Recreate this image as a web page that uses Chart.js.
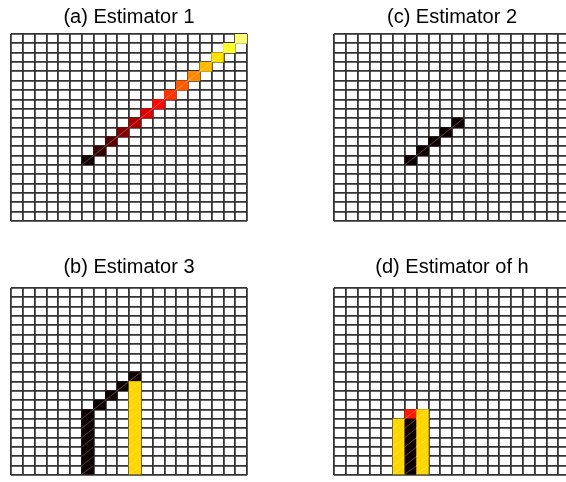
<!DOCTYPE html>
<html>
<head>
<meta charset="utf-8">
<script src="https://cdn.jsdelivr.net/npm/chart.js@4/dist/chart.umd.min.js"></script>
<style>
    html, body { margin: 0; padding: 0; width: 566px; height: 482px; overflow: hidden; background: #fff; }
    canvas { position: absolute; }
</style>
</head>
<body>
<canvas id="chartA" width="260" height="232" style="left:0px;top:0px"></canvas>
<canvas id="chartC" width="260" height="232" style="left:323px;top:0px"></canvas>
<canvas id="chartB" width="260" height="232" style="left:0px;top:250px"></canvas>
<canvas id="chartD" width="260" height="232" style="left:323px;top:250px"></canvas>
<script>
// grid is 20 x 20, rows counted from the top
const columnLabels = ['1','2','3','4','5','6','7','8','9','10','11','12','13','14','15','16','17','18','19','20'];
const rowCount = 20;

// (a) Estimator 1
const colsA = [7, 8, 9, 10, 11, 12, 13, 14, 15, 16, 17, 18, 19, 20];
const rowsA = [14, 13, 12, 11, 10, 9, 8, 7, 6, 5, 4, 3, 2, 1];
const heatA = [0.02, 0.075, 0.13, 0.185, 0.245, 0.315, 0.375, 0.44, 0.5, 0.57, 0.64, 0.7, 0.78, 0.86];

// (c) Estimator 2
const colsC = [7, 8, 9, 10, 11];
const rowsC = [14, 13, 12, 11, 10];
const heatC = [0.02, 0.02, 0.02, 0.02, 0.02];

// (b) Estimator 3
const colsB = [7, 7, 7, 7, 7, 7, 7, 8, 9, 10, 11, 11, 11, 11, 11, 11, 11, 11, 11, 11, 11];
const rowsB = [14, 15, 16, 17, 18, 19, 20, 13, 12, 11, 10, 11, 12, 13, 14, 15, 16, 17, 18, 19, 20];
const heatB = [0.02, 0.02, 0.02, 0.02, 0.02, 0.02, 0.02, 0.02, 0.02, 0.02, 0.02, 0.685, 0.685, 0.685, 0.685, 0.685, 0.685, 0.685, 0.685, 0.685, 0.685];

// (d) Estimator of h
const colsD = [6, 6, 6, 6, 6, 6, 7, 7, 7, 7, 7, 7, 7, 8, 8, 8, 8, 8, 8, 8];
const rowsD = [15, 16, 17, 18, 19, 20, 14, 15, 16, 17, 18, 19, 20, 14, 15, 16, 17, 18, 19, 20];
const heatD = [0.685, 0.685, 0.685, 0.685, 0.685, 0.685, 0.4, 0.02, 0.02, 0.02, 0.02, 0.02, 0.02, 0.685, 0.685, 0.685, 0.685, 0.685, 0.685, 0.685];

// matplotlib-like "hot" colour map
function hotColor(v) {
    const clamp = t => Math.max(0, Math.min(1, t));
    const r = clamp(v / 0.365);
    const g = clamp((v - 0.365) / 0.381);
    const b = clamp((v - 0.746) / 0.254);
    return `rgb(${Math.round(r * 255)}, ${Math.round(g * 255)}, ${Math.round(b * 255)})`;
}

// thin light diagonal across each filled cell
const diagonalPlugin = {
    id: 'cellDiagonal',
    afterDatasetsDraw(chart) {
        const ctx = chart.ctx;
        ctx.save();
        ctx.strokeStyle = 'rgba(255, 255, 255, 0.35)';
        ctx.lineWidth = 0.8;
        chart.getDatasetMeta(0).data.forEach(bar => {
            const p = bar.getProps(['x', 'y', 'base', 'width'], true);
            const top = Math.min(p.y, p.base);
            const bottom = Math.max(p.y, p.base);
            ctx.beginPath();
            ctx.moveTo(p.x - p.width / 2, bottom);
            ctx.lineTo(p.x + p.width / 2, top);
            ctx.stroke();
        });
        ctx.restore();
    }
};

const gridStyle = { color: '#333333', lineWidth: 1.8, drawTicks: false };

function gridAxis(extra) {
    return Object.assign({
        display: true,
        z: 1,
        border: { display: false },
        grid: gridStyle,
        ticks: { display: false, autoSkip: false }
    }, extra);
}

function makePanel(id, title, cols, rows, heat, titlePad, bottomPad) {
    const data = cols.map((c, i) => ({ x: String(c), y: [rowCount - rows[i], rowCount + 1 - rows[i]] }));
    new Chart(document.getElementById(id), {
        type: 'bar',
        data: {
            labels: columnLabels,
            datasets: [{
                data: data,
                backgroundColor: heat.map(hotColor),
                borderWidth: 0,
                categoryPercentage: 1,
                barPercentage: 1
            }]
        },
        options: {
            responsive: false,
            animation: false,
            devicePixelRatio: 1,
            layout: { padding: { left: 11, right: 13, top: 0, bottom: bottomPad } },
            plugins: {
                legend: { display: false },
                tooltip: { enabled: false },
                title: {
                    display: true,
                    text: title,
                    color: '#000',
                    font: { family: "'Liberation Sans', Arial, sans-serif", size: 20, weight: 'normal' },
                    padding: titlePad
                }
            },
            scales: {
                x: gridAxis({ type: 'category', offset: true, grid: Object.assign({ offset: true }, gridStyle) }),
                y: gridAxis({ type: 'linear', min: 0, max: rowCount, ticks: { display: false, stepSize: 1, maxTicksLimit: 30 } })
            }
        },
        plugins: [diagonalPlugin]
    });
}

makePanel('chartA', '(a) Estimator 1', colsA, rowsA, heatA, { top: 5, bottom: 5 }, 11);
makePanel('chartC', '(c) Estimator 2', colsC, rowsC, heatC, { top: 5, bottom: 5 }, 11);
makePanel('chartB', '(b) Estimator 3', colsB, rowsB, heatB, { top: 5, bottom: 9 }, 7);
makePanel('chartD', '(d) Estimator of h', colsD, rowsD, heatD, { top: 5, bottom: 9 }, 7);
</script>
</body>
</html>
